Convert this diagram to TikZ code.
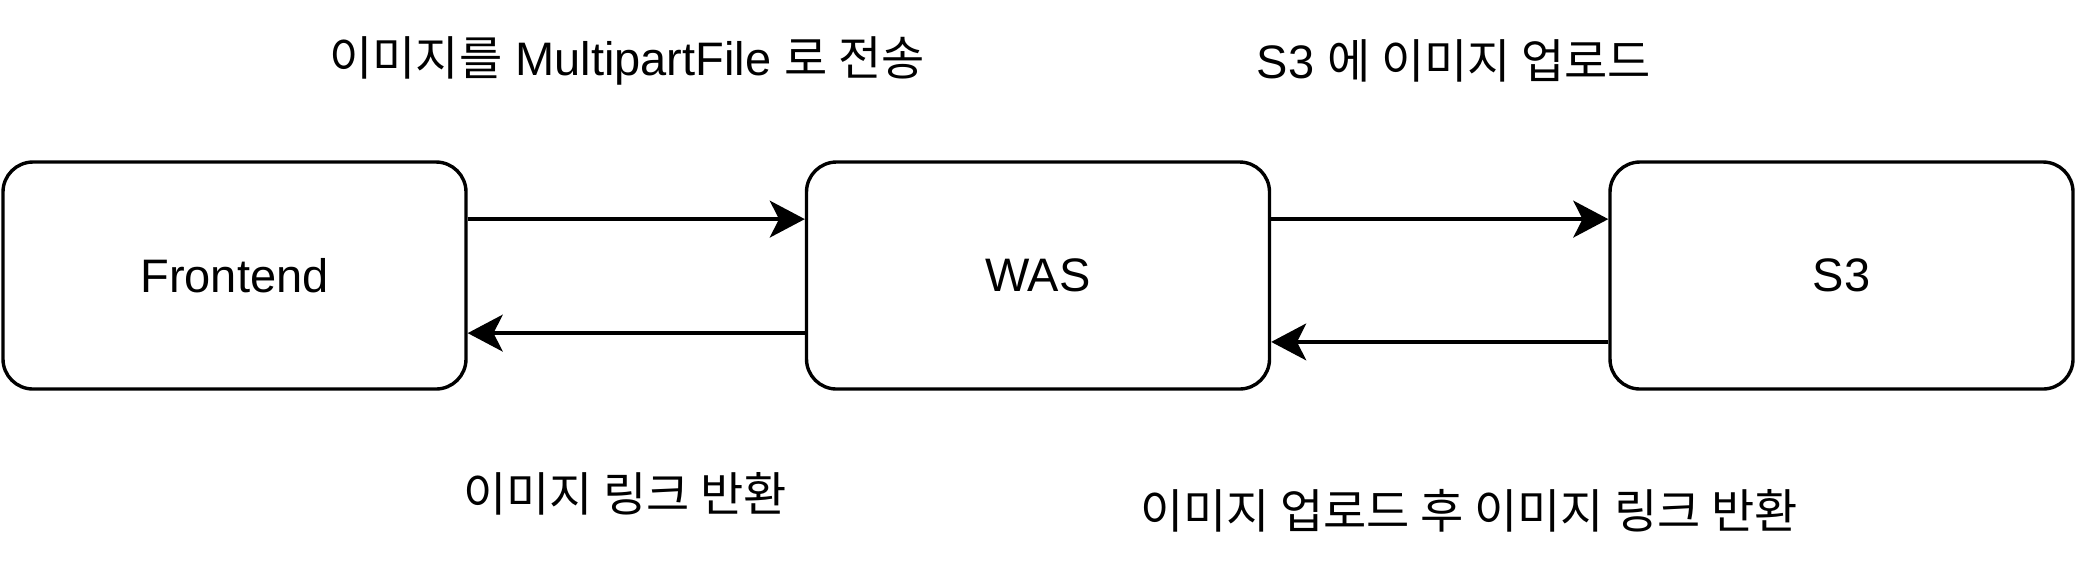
\documentclass[tikz,border=0pt]{standalone}
\usepackage{fontspec}
\setmainfont{Liberation Sans}
\newfontfamily\kr{Noto Sans CJK KR}
\usetikzlibrary{positioning, arrows.meta}

\begin{document}
\begin{tikzpicture}[x=0.25pt, y=-0.25pt, node distance=84.275pt, every node/.style={font=\fontsize{11.75}{14}\selectfont, align=center},
    box/.style={rounded corners=7.5pt, draw, line width=0.85pt, minimum width=115.75pt, minimum height=56.75pt},
    link/.style={-{Stealth[length=8.75pt, width=9.2pt, inset=2.3pt]}, line width=0.85pt}]
    \useasboundingbox (0,0) rectangle (2076,572);
    \node[box] (fe) at (234.5,275.5) {Frontend};
    \node[box, right=of fe] (was) {WAS};
    \node[box, right=of was] (s3) {S3};

    \draw[link] ([yshift=14.1pt]fe.east) -- ([yshift=14.1pt]was.west);
    \draw[link] ([yshift=-14.4pt]was.west) -- ([yshift=-14.4pt]fe.east);
    \draw[link] ([yshift=14.1pt]was.east) -- ([yshift=14.1pt]s3.west);
    \draw[link] ([yshift=-16.6pt]s3.west) -- ([yshift=-16.6pt]was.east);

    \node (send) at (627,61) {{\kr 이미지를} MultipartFile {\kr 로 전송}};
    \node (upload) at (1454,61) {S3 {\kr 에 이미지 업로드}};
    \node (link) at (625,494) {\kr 이미지 링크 반환};
    \node (back) at (1469,511) {\kr 이미지 업로드 후 이미지 링크 반환};
\end{tikzpicture}
\end{document}
